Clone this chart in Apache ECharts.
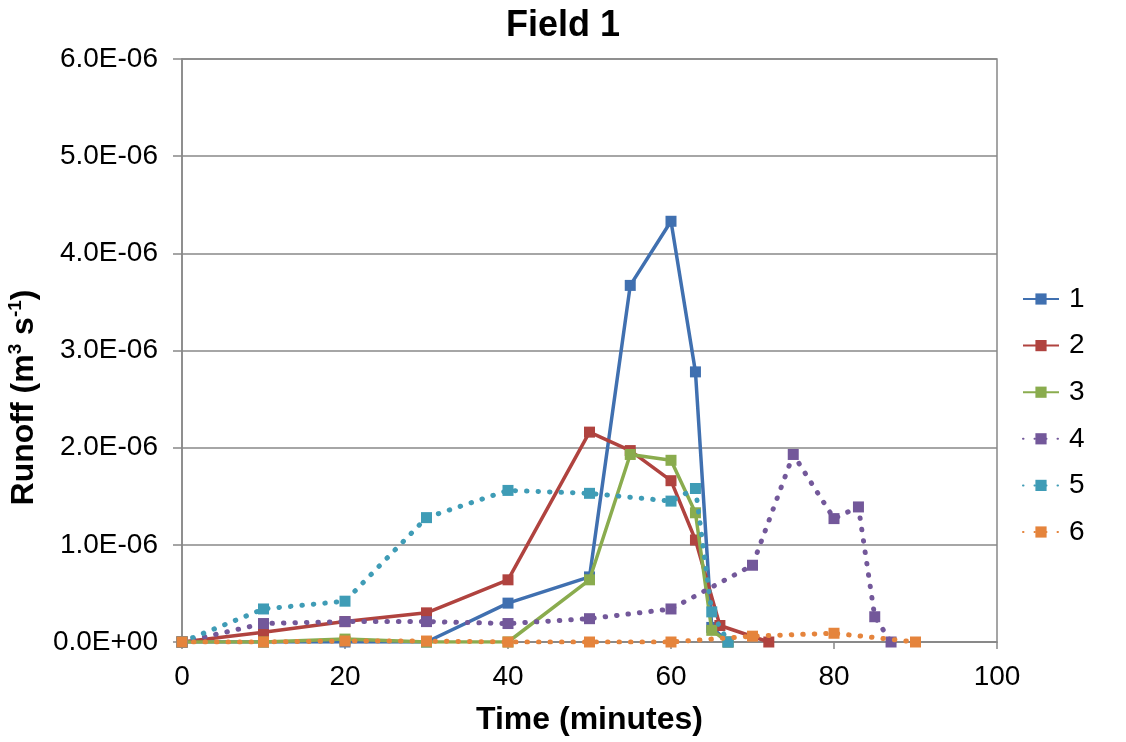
<!DOCTYPE html>
<html><head><meta charset="utf-8">
<script src="https://cdn.jsdelivr.net/npm/echarts@6/dist/echarts.min.js"></script>
<style>html,body{margin:0;padding:0;background:#fff}#c{width:1126px;height:742px}</style>
</head><body><div id="c"></div>
<script>
const seriesNames = ['1','2','3','4','5','6'];
const t1 = [0,10,20,30,40,50,55,60,63,65,67];
const v1 = [0,0,0,0,0.40e-6,0.67e-6,3.67e-6,4.33e-6,2.78e-6,0.15e-6,0];
const t2 = [0,10,20,30,40,50,55,60,63,66,72];
const v2 = [0,0.10e-6,0.21e-6,0.30e-6,0.64e-6,2.16e-6,1.97e-6,1.66e-6,1.05e-6,0.17e-6,0];
const t3 = [0,10,20,30,40,50,55,60,63,65,67];
const v3 = [0,0,0.03e-6,0,0,0.64e-6,1.93e-6,1.87e-6,1.33e-6,0.12e-6,0];
const t4 = [0,10,20,30,40,50,60,70,75,80,83,85,87];
const v4 = [0,0.19e-6,0.21e-6,0.21e-6,0.19e-6,0.24e-6,0.34e-6,0.79e-6,1.93e-6,1.27e-6,1.39e-6,0.26e-6,0];
const t5 = [0,10,20,30,40,50,60,63,65,67];
const v5 = [0,0.34e-6,0.42e-6,1.28e-6,1.56e-6,1.53e-6,1.45e-6,1.58e-6,0.31e-6,0];
const t6 = [0,10,20,30,40,50,60,70,80,90];
const v6 = [0,0,0.01e-6,0.01e-6,0,0,0,0.06e-6,0.09e-6,0];

const times = [t1,t2,t3,t4,t5,t6];
const vals = [v1,v2,v3,v4,v5,v6];
const colors = ['#4070B0','#B0433F','#8AAC4E','#73589A','#3F9CB6','#E5843C'];
const dotted = [false,false,false,true,true,true];

const chart = echarts.init(document.getElementById('c'));
const font = 'Liberation Sans, Arial, sans-serif';
function fmt(v){
  if (Math.abs(v) < 1e-12) return '0.0E+00';
  return (v/1e-6).toFixed(1) + 'E-06';
}
const series = seriesNames.map((n,i)=>({
  name: n, type: 'line',
  data: times[i].map((t,j)=>[t, vals[i][j]]),
  symbol: 'rect', symbolSize: 11,
  itemStyle: {color: colors[i]},
  lineStyle: dotted[i] ? {color: colors[i], width: 5, type: [0.5, 11], cap: 'round'} : {color: colors[i], width: 3.5},
  z: 2 + i
}));
chart.setOption({
  animation: false,
  backgroundColor: '#fff',
  title: {text: 'Field 1', left: 'center', top: 3,
    textStyle: {fontFamily: font, fontSize: 36, fontWeight: 'bold', color: '#000'}},
  grid: {left: 182, right: 129, top: 59, bottom: 100, show: true, borderColor: '#888', borderWidth: 1.5,
    containLabel: false, outerBoundsMode: 'none'},
  legend: {orient: 'vertical', left: 1017, top: 280, itemWidth: 36, itemHeight: 14, itemGap: 18.6,
    textStyle: {fontFamily: font, fontSize: 28, lineHeight: 28, color: '#000', padding: [0,0,0,5]}, data: seriesNames},
  xAxis: {type: 'value', min: 0, max: 100, interval: 20,
    name: 'Time (minutes)', nameLocation: 'middle', nameGap: 62,
    nameTextStyle: {fontFamily: font, fontSize: 32, fontWeight: 'bold', color: '#000'},
    axisLine: {show: true, lineStyle: {color: '#888', width: 1.5}},
    axisTick: {show: true, length: 7, lineStyle: {color: '#888', width: 1.5}},
    splitLine: {show: false},
    axisLabel: {fontFamily: font, fontSize: 28, color: '#000', margin: 21}},
  yAxis: {type: 'value', min: 0, max: 6e-6, interval: 1e-6,
    name: '{b|Runoff (m}{s|3}{b| s}{s|-1}{b|)}', nameLocation: 'middle', nameGap: 140, nameRotate: 90,
    nameTextStyle: {fontFamily: font, fontSize: 32, fontWeight: 'bold', color: '#000', padding: [0, 94, 0, 0],
      rich: {b: {fontFamily: font, fontSize: 32, fontWeight: 'bold', color: '#000', lineHeight: 36},
             s: {fontFamily: font, fontSize: 19, fontWeight: 'bold', color: '#000', verticalAlign: 'top', lineHeight: 36, padding: [0,0,12,0]}}},
    axisLine: {show: true, lineStyle: {color: '#888', width: 1.5}},
    axisTick: {show: true, length: 9, lineStyle: {color: '#888', width: 1.5}},
    splitLine: {show: true, lineStyle: {color: '#888', width: 1.5}},
    axisLabel: {fontFamily: font, fontSize: 28, color: '#000', margin: 24, formatter: fmt}},
  series: series
});
</script></body></html>
